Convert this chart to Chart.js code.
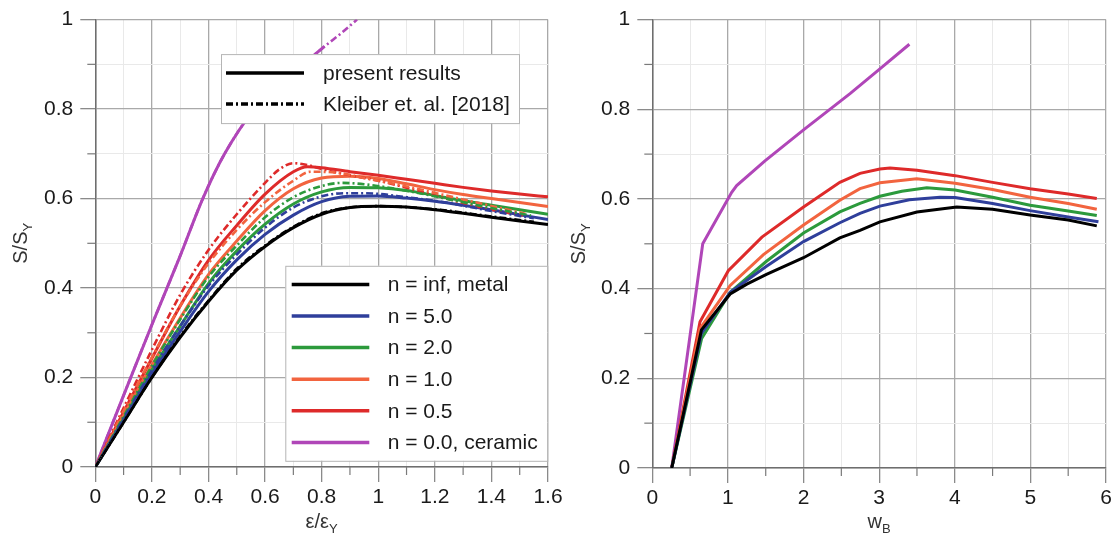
<!DOCTYPE html>
<html><head><meta charset="utf-8">
<script src="https://cdn.jsdelivr.net/npm/chart.js@4.4.1/dist/chart.umd.min.js"></script>
<style>
html,body{margin:0;padding:0;background:#fff;width:1116px;height:544px;overflow:hidden;}
#c1{position:absolute;left:0;top:0;}
#c2{position:absolute;left:558px;top:0;}
</style></head><body>
<canvas id="c1" width="580" height="544"></canvas>
<canvas id="c2" width="558" height="544"></canvas>
<script>
// ---------- DATA: left panel (strain ratio vs S/SY) ----------
// present results (solid)
const epsMetal   = [0,0.1,0.2,0.3,0.4,0.5,0.6,0.7,0.8,0.9,1.0,1.1,1.2,1.3,1.4,1.5,1.6];
const sMetal     = [0,0.1,0.2,0.29,0.37,0.44,0.493,0.535,0.565,0.58,0.583,0.581,0.575,0.567,0.558,0.55,0.542];
const epsN5      = [0,0.1,0.2,0.3,0.4,0.5,0.6,0.7,0.8,0.9,1.0,1.1,1.2,1.3,1.4,1.5,1.6];
const sN5        = [0,0.104,0.208,0.303,0.392,0.463,0.52,0.563,0.593,0.605,0.606,0.601,0.594,0.585,0.575,0.564,0.553];
const epsN2      = [0,0.1,0.2,0.3,0.4,0.5,0.6,0.7,0.8,0.9,1.0,1.1,1.2,1.3,1.4,1.5,1.6];
const sN2        = [0,0.108,0.217,0.315,0.41,0.483,0.543,0.588,0.615,0.625,0.624,0.618,0.607,0.595,0.585,0.575,0.565];
const epsN1      = [0,0.1,0.2,0.3,0.4,0.5,0.6,0.7,0.8,0.9,1.0,1.1,1.2,1.3,1.4,1.5,1.6];
const sN1        = [0,0.115,0.228,0.333,0.43,0.505,0.573,0.622,0.646,0.65,0.645,0.633,0.62,0.609,0.6,0.591,0.582];
const epsN05     = [0,0.1,0.2,0.3,0.4,0.5,0.6,0.7,0.75,0.8,0.9,1.0,1.1,1.2,1.3,1.4,1.5,1.6];
const sN05       = [0,0.123,0.243,0.36,0.462,0.54,0.61,0.66,0.671,0.669,0.66,0.652,0.643,0.634,0.625,0.617,0.61,0.604];
const epsCeramic = [0,0.1,0.2,0.3,0.38,0.457,0.563,0.68,0.81];
const sCeramic   = [0,0.16,0.318,0.472,0.6,0.7,0.8,0.87,0.94];
// Kleiber et al. [2018] (dash-dot)
const kEpsMetal   = [0,0.1,0.2,0.3,0.4,0.5,0.6,0.7,0.8,0.9,1.0,1.2,1.4,1.55];
const kSMetal     = [0,0.1,0.2,0.292,0.372,0.443,0.495,0.537,0.567,0.58,0.583,0.576,0.56,0.548];
const kEpsN5      = [0,0.1,0.2,0.3,0.4,0.5,0.6,0.7,0.8,0.88,0.95,1.1,1.25,1.4,1.55];
const kSN5        = [0,0.108,0.216,0.315,0.405,0.475,0.535,0.58,0.605,0.612,0.612,0.603,0.59,0.572,0.556];
const kEpsN2      = [0,0.1,0.2,0.3,0.4,0.5,0.6,0.7,0.8,0.87,0.95,1.05,1.2,1.35,1.54];
const kSN2        = [0,0.113,0.226,0.33,0.425,0.495,0.558,0.603,0.628,0.635,0.632,0.623,0.605,0.585,0.562];
const kEpsN1      = [0,0.1,0.2,0.3,0.4,0.5,0.6,0.7,0.76,0.85,0.95,1.1,1.3,1.52];
const kSN1        = [0,0.125,0.245,0.36,0.455,0.53,0.592,0.64,0.66,0.658,0.646,0.627,0.598,0.566];
const kEpsN05     = [0,0.1,0.2,0.3,0.4,0.5,0.6,0.65,0.7,0.75,0.8,0.9,1.0,1.1,1.2,1.3,1.4,1.511];
const kSN05       = [0,0.132,0.262,0.385,0.485,0.565,0.635,0.665,0.679,0.675,0.666,0.652,0.64,0.624,0.607,0.59,0.575,0.562];
const kEpsCeramic = [0,0.1,0.2,0.3,0.38,0.457,0.563,0.68,0.81,0.87,0.925];
const kSCeramic   = [0,0.16,0.318,0.472,0.6,0.7,0.8,0.87,0.94,0.97,1.0];

// ---------- DATA: right panel (wB vs S/SY) ----------
const wMetal   = [0.257,0.65,1.03,1.25,1.51,2.0,2.48,2.747,3.01,3.5,4.026,4.5,4.996,5.5,5.878];
const rMetal   = [0,0.308,0.388,0.41,0.432,0.469,0.513,0.53,0.549,0.571,0.582,0.577,0.564,0.553,0.54];
const wN5      = [0.257,0.65,1.03,1.51,2.0,2.48,2.747,3.01,3.4,3.805,4.004,4.5,4.996,5.5,5.9];
const rN5      = [0,0.3,0.392,0.45,0.505,0.547,0.568,0.584,0.598,0.604,0.603,0.59,0.574,0.56,0.549];
const wN2      = [0.257,0.653,1.03,1.51,2.0,2.48,2.747,3.01,3.3,3.63,4.004,4.5,4.996,5.5,5.878];
const rN2      = [0,0.289,0.392,0.461,0.524,0.571,0.59,0.606,0.617,0.625,0.62,0.604,0.586,0.573,0.563];
const wN1      = [0.257,0.631,1.03,1.47,2.0,2.48,2.747,3.01,3.497,4.004,4.5,4.996,5.5,5.878];
const rN1      = [0,0.311,0.407,0.476,0.542,0.597,0.623,0.636,0.645,0.635,0.621,0.604,0.59,0.577];
const wN05     = [0.257,0.631,1.005,1.45,2.0,2.48,2.747,3.01,3.144,3.5,4.004,4.5,4.996,5.5,5.878];
const rN05     = [0,0.326,0.44,0.515,0.582,0.637,0.657,0.667,0.669,0.664,0.652,0.637,0.623,0.611,0.601];
const wCeramic = [0.257,0.667,1.05,1.116,1.49,2.0,2.615,3.01,3.4];
const rCeramic = [0,0.5,0.615,0.63,0.685,0.754,0.835,0.89,0.945];

// ---------- labels ----------
const seriesLabels = ['n = inf, metal','n = 5.0','n = 2.0','n = 1.0','n = 0.5','n = 0.0, ceramic'];
const sourceLabels = ['present results','Kleiber et. al. [2018]'];
const yTitle = ['S/S','Y'];
const xTitleLeft = ['\u03b5/\u03b5','Y'];
const xTitleRight = ['w','B'];

// ---------- styles ----------
const COLORS = ['#000000','#2f3f9b','#2c9a3c','#f2643f','#de2a2a','#b046b8'];
const FF = 'Arial, "Liberation Sans", sans-serif';
const DASH = [7,3,2,3];

const pts = (xs, ys) => xs.map((x, i) => ({x, y: ys[i]}));

const solidLeft = [[epsMetal,sMetal],[epsN5,sN5],[epsN2,sN2],[epsN1,sN1],[epsN05,sN05],[epsCeramic,sCeramic]];
const dashLeft = [[kEpsMetal,kSMetal],[kEpsN5,kSN5],[kEpsN2,kSN2],[kEpsN1,kSN1],[kEpsN05,kSN05],[kEpsCeramic,kSCeramic]];
const solidRight = [[wMetal,rMetal],[wN5,rN5],[wN2,rN2],[wN1,rN1],[wN05,rN05],[wCeramic,rCeramic]];

function isMajor(v, step) { return Math.abs(Math.round(v / step) - v / step) < 1e-6; }

function axes(xmax, xstep, xmajor, yAxisWidth, xAxisHeight) {
  const gridOpts = (major) => ({
    color: c => isMajor(c.tick.value, major) ? '#a9a9a9' : '#e9e9e9',
    lineWidth: c => isMajor(c.tick.value, major) ? 1.3 : 1,
    tickColor: c => isMajor(c.tick.value, major) ? '#8a8a8a' : 'rgba(0,0,0,0)',
    tickLength: 15,
    drawTicks: true
  });
  return {
    x: {
      type: 'linear', min: 0, max: xmax,
      grid: gridOpts(xmajor),
      border: {color: '#6e6e6e', width: 1.5},
      ticks: {
        stepSize: xstep, autoSkip: false, maxRotation: 0, padding: 3,
        color: '#1a1a1a', font: {family: FF, size: 21},
        callback: v => isMajor(v, xmajor) ? String(+(Math.round(v / xmajor) * xmajor).toFixed(1)) : ''
      },
      afterFit: s => { s.height = xAxisHeight; }
    },
    y: {
      type: 'linear', min: 0, max: 1,
      grid: gridOpts(0.2),
      border: {color: '#6e6e6e', width: 1.5},
      ticks: {
        stepSize: 0.1, autoSkip: false, padding: 7,
        color: '#1a1a1a', font: {family: FF, size: 21},
        callback: v => isMajor(v, 0.2) ? String(+(Math.round(v / 0.2) * 0.2).toFixed(1)) : ''
      },
      afterFit: s => { s.width = yAxisWidth; }
    }
  };
}

function minorTicks(xmajor) {
  return {
    id: 'minorTicks',
    afterDraw(chart) {
      const ctx = chart.ctx, xs = chart.scales.x, ys = chart.scales.y, a = chart.chartArea;
      ctx.save();
      ctx.strokeStyle = '#7a7a7a'; ctx.lineWidth = 1.2;
      xs.ticks.forEach(t => {
        if (isMajor(t.value, xmajor)) return;
        const px = xs.getPixelForValue(t.value);
        ctx.beginPath(); ctx.moveTo(px, a.bottom); ctx.lineTo(px, a.bottom + 8); ctx.stroke();
      });
      ys.ticks.forEach(t => {
        if (isMajor(t.value, 0.2)) return;
        const py = ys.getPixelForValue(t.value);
        ctx.beginPath(); ctx.moveTo(a.left, py); ctx.lineTo(a.left - 8, py); ctx.stroke();
      });
      ctx.restore();
    }
  };
}

function subText(ctx, parts, x, y, rotate) {
  ctx.save();
  ctx.translate(x, y);
  if (rotate) ctx.rotate(-Math.PI / 2);
  ctx.fillStyle = '#333';
  ctx.textBaseline = 'alphabetic';
  ctx.font = '20px ' + FF; const w1 = ctx.measureText(parts[0]).width;
  ctx.font = '13px ' + FF; const w2 = ctx.measureText(parts[1]).width;
  const x0 = -(w1 + w2) / 2;
  ctx.font = '20px ' + FF; ctx.fillText(parts[0], x0, 0);
  ctx.font = '13px ' + FF; ctx.fillText(parts[1], x0 + w1, 5);
  ctx.restore();
}

function titles(xParts) {
  return {
    id: 'titles',
    afterDraw(chart) {
      const a = chart.chartArea, ctx = chart.ctx;
      subText(ctx, yTitle, 27, (a.top + a.bottom) / 2, true);
      subText(ctx, xParts, (a.left + a.right) / 2, 528, false);
    }
  };
}

function legendBox(ctx, x, y, w, h, items, row0, rowH, s0, s1, tx) {
  ctx.save();
  ctx.fillStyle = '#fff'; ctx.fillRect(x, y, w, h);
  ctx.strokeStyle = '#b5b5b5'; ctx.lineWidth = 1; ctx.strokeRect(x + 0.5, y + 0.5, w, h);
  items.forEach((it, i) => {
    const cy = y + row0 + i * rowH;
    ctx.beginPath(); ctx.setLineDash(it.dash || []);
    ctx.strokeStyle = it.color; ctx.lineWidth = 3.5;
    ctx.moveTo(x + s0, cy); ctx.lineTo(x + s1, cy); ctx.stroke();
    ctx.setLineDash([]);
    ctx.fillStyle = '#1a1a1a'; ctx.font = '21px ' + FF; ctx.textBaseline = 'middle';
    ctx.fillText(it.text, x + tx, cy + 1);
  });
  ctx.restore();
}

const legendsPlugin = {
  id: 'legends',
  afterDatasetsDraw(chart) {
    const a = chart.chartArea, ctx = chart.ctx;
    legendBox(ctx, a.left + 125.7, a.top + 34.5, 298, 69,
      [{text: sourceLabels[0], color: '#000'}, {text: sourceLabels[1], color: '#000', dash: DASH}],
      19, 31, 5, 83, 102);
    legendBox(ctx, a.left + 190, a.top + 246.2, 262, 195,
      seriesLabels.map((t, i) => ({text: t, color: COLORS[i]})),
      18.6, 31.6, 6.4, 84, 102.4);
  }
};

const leftDatasets = [];
dashLeft.forEach((d, i) => leftDatasets.push({
  label: sourceLabels[1] + ' ' + seriesLabels[i], data: pts(d[0], d[1]),
  borderColor: COLORS[i], borderWidth: 2.6, borderDash: DASH, pointRadius: 0,
  cubicInterpolationMode: 'monotone', fill: false, order: 1
}));
solidLeft.forEach((d, i) => leftDatasets.push({
  label: sourceLabels[0] + ' ' + seriesLabels[i], data: pts(d[0], d[1]),
  borderColor: COLORS[i], borderWidth: 3, pointRadius: 0,
  cubicInterpolationMode: 'monotone', fill: false, order: 2
}));

new Chart(document.getElementById('c1'), {
  type: 'line',
  data: {datasets: leftDatasets},
  options: {
    responsive: false, animation: false,
    layout: {padding: {top: 14.5, right: 32, bottom: 0, left: 0}},
    plugins: {legend: {display: false}, tooltip: {enabled: false}},
    scales: axes(1.6, 0.1, 0.2, 95.3, 77)
  },
  plugins: [minorTicks(0.2), titles(xTitleLeft), legendsPlugin]
});

new Chart(document.getElementById('c2'), {
  type: 'line',
  data: {datasets: solidRight.map((d, i) => ({
    label: seriesLabels[i], data: pts(d[0], d[1]),
    borderColor: COLORS[i], borderWidth: 3, pointRadius: 0, tension: 0, fill: false
  }))},
  options: {
    responsive: false, animation: false,
    layout: {padding: {top: 14.5, right: 10, bottom: 0, left: 0}},
    plugins: {legend: {display: false}, tooltip: {enabled: false}},
    scales: axes(6, 0.5, 1, 94.3, 76)
  },
  plugins: [minorTicks(1), titles(xTitleRight)]
});
</script>
</body></html>
